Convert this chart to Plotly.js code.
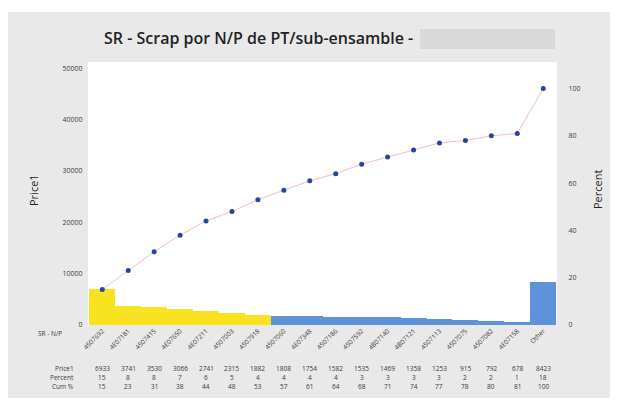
<!DOCTYPE html>
<html><head><meta charset="utf-8">
<script src="https://cdn.plot.ly/plotly-3.0.1.min.js"></script>
<style>
html,body{margin:0;padding:0;background:#ffffff;width:617px;height:406px;overflow:hidden}
#chart{position:absolute;left:8px;top:12px;width:602px;height:386px}
</style></head>
<body><div id="chart"></div>
<script>
const categories = ["4507692","4E07181","4507415","4E07650","4E07211","4507003","4507918","4507060","4E07348","4507186","4507592","4B07140","4B07121","4507113","4507075","4507082","4E07158","Other"];
const price1 = [6933,3741,3530,3066,2741,2315,1882,1808,1754,1582,1535,1469,1358,1253,915,792,678,8423];
const percent = [15,8,8,7,6,5,4,4,4,4,3,3,3,3,2,2,1,18];
const cumPct = [15,23,31,38,44,48,53,57,61,64,68,71,74,77,78,80,81,100];
const rowLabels = ["Price1","Percent","Cum %"];
const leftTicks = [0,10000,20000,30000,40000,50000];
const rightTicks = [0,20,40,60,80,100];
const highlightCount = 7;

const W = 602, H = 386;
const L = 80, R = 549, T = 50, B = 313;
const px = x => (x - L) / (R - L);
const py = y => (B - y) / (B - T);

const xs = categories.map((c, i) => i);
const barColors = xs.map(i => i < highlightCount ? '#f9e21f' : '#5d93da');
const txtFont = {family: 'Open Sans, sans-serif', size: 6.5, color: '#3a3a3a'};

const annotations = [];
const rows = [price1, percent, cumPct];
const rowY = [356, 365, 374];
rows.forEach((row, r) => {
  annotations.push({xref:'paper', yref:'paper', x: px(68), y: py(rowY[r]), text: rowLabels[r],
    showarrow:false, xanchor:'right', yanchor:'middle', font: txtFont});
  row.forEach((v, i) => annotations.push({xref:'x', yref:'paper', x: i, y: py(rowY[r]), text: String(v),
    showarrow:false, xanchor:'center', yanchor:'middle', font: txtFont}));
});
annotations.push({xref:'paper', yref:'paper', x: px(42), y: py(321), text:'SR - N/P', showarrow:false,
  xanchor:'center', yanchor:'middle', font: txtFont});
annotations.push({xref:'paper', yref:'paper', x: px(25), y: py(178), text:'Price1', showarrow:false,
  textangle:-90, xanchor:'center', yanchor:'middle', font:{family:'Open Sans, sans-serif', size:11, color:'#222'}});
annotations.push({xref:'paper', yref:'paper', x: px(589), y: py(178), text:'Percent', showarrow:false,
  textangle:-90, xanchor:'center', yanchor:'middle', font:{family:'Open Sans, sans-serif', size:11, color:'#222'}});

const data = [
  {type:'bar', x: xs, y: price1, marker:{color: barColors, line:{width:0}}, hoverinfo:'x+y', yaxis:'y'},
  {type:'scatter', mode:'lines+markers', x: xs, y: cumPct, yaxis:'y2',
   line:{color:'rgba(220,90,90,0.5)', width:0.8},
   marker:{color:'#2445a0', size:5}}
];

const layout = {
  width: W, height: H,
  paper_bgcolor:'#e9e9e9', plot_bgcolor:'#ffffff',
  margin:{l:L, r:W-R, t:T, b:H-B, pad:0},
  showlegend:false,
  bargap:0,
  title:{text:'SR - Scrap por N/P de PT/sub-ensamble -', xref:'container', yref:'container',
    x: 96/W, xanchor:'left', y: 1-26/H, yanchor:'middle',
    font:{family:'Open Sans, sans-serif', size:16, color:'#222', weight:600}},
  xaxis:{range:[-0.55,17.53], tickmode:'array', tickvals: xs, ticktext: categories,
    tickangle:-45, tickfont:{family:'Open Sans, sans-serif', size:6.5, color:'#3a3a3a'},
    ticks:'', showgrid:false, zeroline:false, showline:false, fixedrange:true, automargin:false},
  yaxis:{range:[0,51200], tickmode:'array', tickvals:leftTicks, ticktext:leftTicks.map(String),
    tickfont:{family:'Open Sans, sans-serif', size:7, color:'#3a3a3a'}, ticks:'outside', ticklen:3,
    tickcolor:'#e9e9e9', showgrid:false, zeroline:false, showline:false, automargin:false},
  yaxis2:{range:[0,111.2], overlaying:'y', side:'right', tickmode:'array', tickvals:rightTicks,
    ticktext:rightTicks.map(String), tickfont:{family:'Open Sans, sans-serif', size:7, color:'#3a3a3a'},
    ticks:'outside', ticklen:9, tickcolor:'#e9e9e9', showgrid:false, zeroline:false, showline:false, automargin:false},
  shapes:[{type:'rect', xref:'paper', yref:'paper', x0: px(412), x1: px(547), y0: py(37), y1: py(17),
    fillcolor:'#d9d9d9', line:{width:0}, layer:'above'}],
  annotations: annotations
};

Plotly.newPlot('chart', data, layout, {displayModeBar:false, staticPlot:true});
</script></body></html>
